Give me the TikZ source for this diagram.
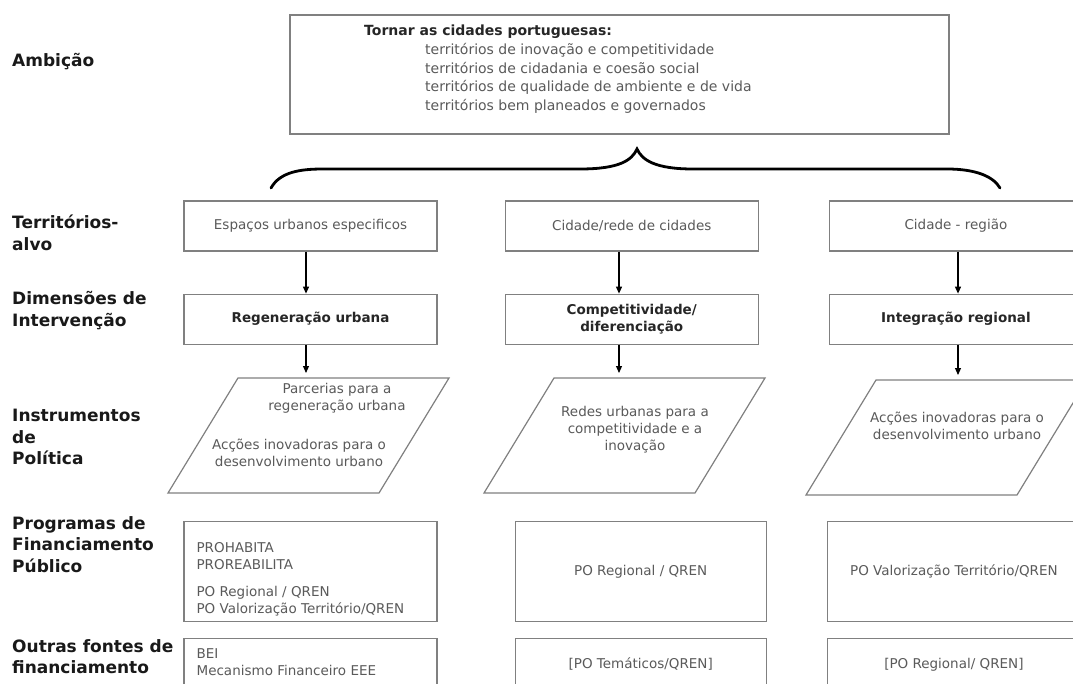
\documentclass[tikz,border=0pt]{standalone}
\usepackage{fontspec}
\setmainfont{DejaVu Sans}
\usetikzlibrary{positioning,arrows.meta}
\definecolor{linegray}{RGB}{128,128,128}
\definecolor{textgray}{RGB}{90,90,90}

\begin{document}
\begin{tikzpicture}[x=1pt, y=-1pt, node distance=40pt,
  every node/.style={font=\fontsize{13.5}{17}\selectfont},
  lbl/.style={anchor=west, align=left, inner sep=0pt, text=black!90, font=\fontsize{17}{21.5}\selectfont\bfseries},
  box/.style={draw=linegray, line width=1.2pt, rectangle, minimum width=253pt, minimum height=50pt, text=textgray, align=center},
  dbox/.style={box, text=black!85, font=\fontsize{13.5}{17}\selectfont\bfseries},
  txt/.style={text=textgray, align=center, inner sep=0pt},
  arr/.style={->, >={Triangle[length=7pt,width=6pt]}, line width=1.1pt}]

  \path[use as bounding box, fill=white] (0,0) rectangle (1073,684);
  \clip (0,0) rectangle (1073,684);

  % row labels
  \node[lbl] (lamb) at (12,62) {Ambição};
  \node[lbl] (lter) at (12,233) {Territórios-\\alvo};
  \node[lbl] (ldim) at (12,310.5) {Dimensões de\\Intervenção};
  \node[lbl] (lins) at (12,437) {Instrumentos\\de\\Política};
  \node[lbl] (lprog) at (12,544.5) {Programas de\\Financiamento\\Público};
  \node[lbl] (lout) at (12,656.5) {Outras fontes de\\financiamento};

  % ambition
  \node[box, minimum width=659pt, minimum height=119pt] (amb) at (619.5,74.5) {};
  \node[anchor=west, inner sep=0pt, text=black!85, font=\fontsize{14}{18.7}\selectfont\bfseries] (ambt) at (364,32) {Tornar as cidades portuguesas:};
  \node[txt, align=left, anchor=north west, font=\fontsize{14}{18.7}\selectfont] (ambl) at (425,43) {territórios de inovação e competitividade\\territórios de cidadania e coesão social\\territórios de qualidade de ambiente e de vida\\territórios bem planeados e governados};

  \draw[line width=2.8pt, line cap=round] (271,188) .. controls (280,172) and (300,169) .. (323,169) -- (580,169)
    .. controls (620,169) and (632,160) .. (637,149) .. controls (642,160) and (655,169) .. (693,169) -- (947,169)
    .. controls (975,169) and (993,176) .. (1000,188);

  % target territories
  \node[box] (t1) at (310.5,226) {Espaços urbanos especificos};
  \node[box, right=67pt of t1] (t2) {Cidade/rede de cidades};
  \node[box, right=70pt of t2] (t3) {Cidade - região};

  % dimensions
  \node[dbox, below=42pt of t1] (d1) {Regeneração urbana};
  \node[dbox, below=42pt of t2] (d2) {Competitividade/\\diferenciação};
  \node[dbox, below=42pt of t3] (d3) {Integração regional};

  % instruments
  \coordinate (i1) at (306,378);
  \coordinate (i2) at (619,378);
  \coordinate (i3) at (958,380);
  \foreach \px/\py in {238/378, 554/378, 876/380}
    \draw[linegray, line width=1.2pt] (\px,\py) -- ++(211,0) -- ++(-70,115) -- ++(-211,0) -- cycle;
  \node[txt] (i1a) at (337,398) {Parcerias para a\\regeneração urbana};
  \node[txt] (i1b) at (299,452.5) {Acções inovadoras para o\\desenvolvimento urbano};
  \node[txt] (i2a) at (635,429.5) {Redes urbanas para a\\competitividade e a\\inovação};
  \node[txt] (i3a) at (957,426) {Acções inovadoras para o\\desenvolvimento urbano};

  % public funding
  \node[box, minimum height=100pt, below=176pt of d1] (p1) {};
  \node[box, minimum width=251pt, minimum height=100pt, right=77pt of p1] (p2) {PO Regional / QREN};
  \node[box, minimum height=100pt, right=60pt of p2] (p3) {PO Valorização Território/QREN};
  \node[txt, align=left, anchor=north west] (p1t) at ([xshift=13pt, yshift=-21pt]p1.north west) {PROHABITA\\PROREABILITA\\[10pt]PO Regional / QREN\\PO Valorização Território/QREN};

  % other sources
  \node[box, minimum height=100pt, below=16pt of p1] (o1) {};
  \node[box, minimum width=251pt, minimum height=100pt, below=16pt of p2] (o2) {};
  \node[box, minimum height=100pt, below=16pt of p3] (o3) {};
  \node[txt, align=left, anchor=north west] (o1t) at ([xshift=13pt, yshift=-10pt]o1.north west) {BEI\\Mecanismo Financeiro EEE};
  \node[txt] (o2t) at ([yshift=-26pt]o2.north) {[PO Temáticos/QREN]};
  \node[txt] (o3t) at ([yshift=-27pt]o3.north) {[PO Regional/ QREN]};

  % arrows
  \draw[arr] (t1.south -| i1) -- (d1.north -| i1);
  \draw[arr] (t2.south -| i2) -- (d2.north -| i2);
  \draw[arr] (t3.south -| i3) -- (d3.north -| i3);
  \draw[arr, shorten >=5pt] (d1.south -| i1) -- (i1);
  \draw[arr, shorten >=5pt] (d2.south -| i2) -- (i2);
  \draw[arr, shorten >=5pt] (d3.south -| i3) -- (i3);
\end{tikzpicture}
\end{document}
